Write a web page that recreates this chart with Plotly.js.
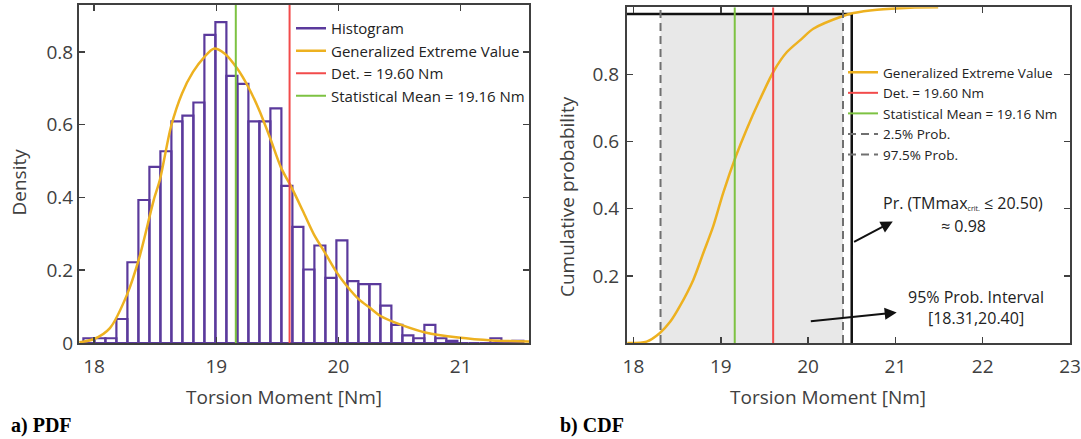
<!DOCTYPE html>
<html>
<head>
<meta charset="utf-8">
<script src="https://cdn.plot.ly/plotly-3.0.1.min.js"></script>
<style>
  html, body { margin: 0; padding: 0; background: #ffffff; }
  #chart { width: 1081px; height: 439px; }
</style>
</head>
<body>
<div id="chart"></div>
<script>
// ---------------- DATA ----------------
// Histogram (density), 40 equal bins starting at 17.913 Nm, width 0.09 Nm
const binStart = 17.913;
const binWidth = 0.09;
const histDensity = [
  0.013, 0.013, 0.013, 0.066, 0.222, 0.393, 0.484, 0.527, 0.609, 0.625,
  0.661, 0.847, 0.882, 0.734, 0.712, 0.609, 0.609, 0.645, 0.432, 0.319,
  0.202, 0.268, 0.179, 0.282, 0.170, 0.162, 0.162, 0.103, 0.050, 0.021,
  0.013, 0.050, 0.013, 0.006, 0.000, 0.000, 0.000, 0.013, 0.000, 0.006
];

// Fitted Generalized Extreme Value PDF
const gevPdfX = [17.88, 18.00, 18.13, 18.27, 18.37, 18.46, 18.49, 18.54, 18.63, 18.72,
                 18.81, 18.90, 18.98, 19.07, 19.17, 19.26, 19.35, 19.44, 19.53, 19.62,
                 19.71, 19.80, 19.89, 19.98, 20.07, 20.17, 20.26, 20.34, 20.52, 20.71,
                 20.98, 21.26, 21.56];
const gevPdfY = [0.002, 0.011, 0.041, 0.133, 0.234, 0.355, 0.395, 0.450, 0.595, 0.686,
                 0.745, 0.785, 0.809, 0.795, 0.755, 0.705, 0.641, 0.564, 0.482, 0.425,
                 0.362, 0.298, 0.248, 0.197, 0.156, 0.119, 0.096, 0.075, 0.049, 0.029,
                 0.015, 0.007, 0.004];

// Fitted Generalized Extreme Value CDF
const gevCdfX = [17.93, 18.15, 18.30, 18.42, 18.53, 18.685, 18.80, 18.914, 19.029, 19.174,
                 19.297, 19.449, 19.609, 19.755, 19.927, 20.06, 20.40, 20.52, 20.79, 21.17, 21.49];
const gevCdfY = [0.000, 0.004, 0.029, 0.063, 0.109, 0.188, 0.268, 0.348, 0.448, 0.557,
                 0.637, 0.726, 0.811, 0.866, 0.906, 0.936, 0.974, 0.983, 0.993, 0.999, 1.000];

const detValue = 19.60;       // deterministic torsion moment [Nm]
const meanValue = 19.16;      // statistical mean [Nm]
const p025 = 18.31;           // 2.5 % quantile
const p975 = 20.40;           // 97.5 % quantile
const critValue = 20.50;      // TMmax crit.
const critProb = 0.98;        // Pr(TMmax <= 20.50)

const pdfXTicks = [18, 19, 20, 21];
const pdfYTicks = [0, 0.2, 0.4, 0.6, 0.8];
const cdfXTicks = [18, 19, 20, 21, 22, 23];
const cdfYTicks = [0.2, 0.4, 0.6, 0.8];

// ---------------- STYLE ----------------
const FONT = "'Open Sans', 'Noto Sans', sans-serif";
const AX = '#404040';
const C_PURPLE = '#5b3a9c';
const C_ORANGE = '#EDB120';
const C_RED = '#f24b4b';
const C_GREEN = '#7dc242';
const C_DASH = '#707070';

const W = 1081, H = 439;
const px = v => v / W;
const py = v => 1 - v / H;

const pdfXRange = [17.877, 21.559];
const pdfYRange = [0, 0.929];
const cdfXRange = [17.926, 23.0];
const cdfYRange = [0, 1.0];

const traces = [
  // ----- PDF panel -----
  {
    type: 'bar', x0: binStart + binWidth / 2, dx: binWidth, y: histDensity,
    width: binWidth, xaxis: 'x', yaxis: 'y', showlegend: false, hoverinfo: 'skip',
    marker: { color: 'rgba(0,0,0,0)', line: { color: C_PURPLE, width: 2.2 } }
  },
  { type: 'scatter', mode: 'lines', x: [null], y: [null], name: 'Histogram',
    xaxis: 'x', yaxis: 'y', legend: 'legend', line: { color: C_PURPLE, width: 2.5 } },
  { type: 'scatter', mode: 'lines', x: gevPdfX, y: gevPdfY, name: 'Generalized Extreme Value',
    xaxis: 'x', yaxis: 'y', legend: 'legend', line: { color: C_ORANGE, width: 2.5, shape: 'spline', smoothing: 0.8 } },
  { type: 'scatter', mode: 'lines', x: [detValue, detValue], y: pdfYRange, name: 'Det. = 19.60 Nm',
    xaxis: 'x', yaxis: 'y', legend: 'legend', line: { color: C_RED, width: 2 } },
  { type: 'scatter', mode: 'lines', x: [meanValue, meanValue], y: pdfYRange, name: 'Statistical Mean = 19.16 Nm',
    xaxis: 'x', yaxis: 'y', legend: 'legend', line: { color: C_GREEN, width: 2 } },

  // ----- CDF panel -----
  { type: 'scatter', mode: 'lines', x: [cdfXRange[0], critValue, critValue], y: [critProb, critProb, 0],
    xaxis: 'x2', yaxis: 'y2', showlegend: false, line: { color: '#111111', width: 2.5 } },
  { type: 'scatter', mode: 'lines', x: gevCdfX, y: gevCdfY, name: 'Generalized Extreme Value',
    xaxis: 'x2', yaxis: 'y2', legend: 'legend2', line: { color: C_ORANGE, width: 2.5, shape: 'spline', smoothing: 0.8 } },
  { type: 'scatter', mode: 'lines', x: [detValue, detValue], y: cdfYRange, name: 'Det. = 19.60 Nm',
    xaxis: 'x2', yaxis: 'y2', legend: 'legend2', line: { color: C_RED, width: 2 } },
  { type: 'scatter', mode: 'lines', x: [meanValue, meanValue], y: cdfYRange, name: 'Statistical Mean = 19.16 Nm',
    xaxis: 'x2', yaxis: 'y2', legend: 'legend2', line: { color: C_GREEN, width: 2 } },
  { type: 'scatter', mode: 'lines', x: [p025, p025], y: cdfYRange, name: '2.5% Prob.',
    xaxis: 'x2', yaxis: 'y2', legend: 'legend2', line: { color: C_DASH, width: 2, dash: '8px,5px' } },
  { type: 'scatter', mode: 'lines', x: [p975, p975], y: cdfYRange, name: '97.5% Prob.',
    xaxis: 'x2', yaxis: 'y2', legend: 'legend2', line: { color: C_DASH, width: 2, dash: '8px,5px' } }
];

const axisCommon = {
  showline: true, linecolor: AX, linewidth: 2, mirror: 'ticks',
  ticks: 'inside', ticklen: 6, tickwidth: 1.5, tickcolor: AX,
  showgrid: false, zeroline: false,
  tickfont: { family: FONT, size: 19, color: AX }
};

const layout = {
  width: W, height: H,
  margin: { l: 0, r: 0, t: 0, b: 0 },
  paper_bgcolor: '#ffffff', plot_bgcolor: '#ffffff',
  showlegend: true,
  bargap: 0,
  xaxis: Object.assign({}, axisCommon, { domain: [px(79), px(529)], range: pdfXRange, tickvals: pdfXTicks, anchor: 'y', ticklabelstandoff: 5 }),
  yaxis: Object.assign({}, axisCommon, { domain: [py(343), py(5)], range: pdfYRange, tickvals: pdfYTicks, anchor: 'x' }),
  xaxis2: Object.assign({}, axisCommon, { domain: [px(627), px(1070)], range: cdfXRange, tickvals: cdfXTicks, anchor: 'y2', ticklabelstandoff: 5 }),
  yaxis2: Object.assign({}, axisCommon, { domain: [py(343), py(7.3)], range: cdfYRange, tickvals: cdfYTicks, anchor: 'x2', ticklabelstandoff: 2 }),
  legend: {
    x: px(291), y: py(12), xanchor: 'left', yanchor: 'top',
    bgcolor: 'rgba(0,0,0,0)', borderwidth: 0,
    font: { family: FONT, size: 15, color: '#222222' }, itemwidth: 30, tracegroupgap: 0
  },
  legend2: {
    x: px(843), y: py(57), xanchor: 'left', yanchor: 'top',
    bgcolor: 'rgba(0,0,0,0)', borderwidth: 0,
    font: { family: FONT, size: 13.5, color: '#222222' }, itemwidth: 30, tracegroupgap: 0
  },
  shapes: [
    { type: 'rect', xref: 'x2', yref: 'y2', x0: p025, x1: p975, y0: 0, y1: critProb,
      fillcolor: '#e8e8e8', line: { width: 0 }, layer: 'below' }
  ],
  annotations: [
    // axis titles
    { xref: 'paper', yref: 'paper', x: px(284), y: py(397), text: 'Torsion Moment [Nm]', showarrow: false,
      xanchor: 'center', yanchor: 'middle', font: { family: FONT, size: 19, color: AX } },
    { xref: 'paper', yref: 'paper', x: px(828), y: py(397), text: 'Torsion Moment [Nm]', showarrow: false,
      xanchor: 'center', yanchor: 'middle', font: { family: FONT, size: 19, color: AX } },
    { xref: 'paper', yref: 'paper', x: px(18), y: py(182.5), text: 'Density', showarrow: false, textangle: -90,
      xanchor: 'center', yanchor: 'middle', font: { family: FONT, size: 19, color: AX } },
    { xref: 'paper', yref: 'paper', x: px(567), y: py(197), text: 'Cumulative probability', showarrow: false, textangle: -90,
      xanchor: 'center', yanchor: 'middle', font: { family: FONT, size: 19, color: AX } },
    // panel labels
    { xref: 'paper', yref: 'paper', x: px(9), y: py(425), text: '<b>a) PDF</b>', showarrow: false,
      xanchor: 'left', yanchor: 'middle', font: { family: "'Liberation Serif', 'Times New Roman', serif", size: 20, color: '#000000' } },
    { xref: 'paper', yref: 'paper', x: px(558), y: py(425), text: '<b>b) CDF</b>', showarrow: false,
      xanchor: 'left', yanchor: 'middle', font: { family: "'Liberation Serif', 'Times New Roman', serif", size: 20, color: '#000000' } },
    // CDF text annotations
    { xref: 'paper', yref: 'paper', x: px(963), y: py(203), showarrow: false, xanchor: 'center', yanchor: 'middle',
      text: 'Pr. (TMmax<span style="font-size:10px"><sub>crit.</sub></span> ≤ 20.50)', font: { family: FONT, size: 16, color: '#222222' } },
    { xref: 'paper', yref: 'paper', x: px(963), y: py(226), showarrow: false, xanchor: 'center', yanchor: 'middle',
      text: '≈ 0.98', font: { family: FONT, size: 16, color: '#222222' } },
    { xref: 'x2', yref: 'y2', x: 21.918, y: 0.1046, showarrow: false, xanchor: 'center', yanchor: 'middle',
      text: '95% Prob. Interval<br>[18.31,20.40]', font: { family: FONT, size: 16, color: '#222222' } },
    // arrows
    { xref: 'x2', yref: 'y2', axref: 'x2', ayref: 'y2', x: 20.97, y: 0.362, ax: 20.51, ay: 0.299,
      text: '', showarrow: true, arrowhead: 2, arrowsize: 1.2, arrowwidth: 2, arrowcolor: '#111111', standoff: 0, startstandoff: 0 },
    { xref: 'x2', yref: 'y2', axref: 'x2', ayref: 'y2', x: 21.015, y: 0.091, ax: 20.014, ay: 0.064,
      text: '', showarrow: true, arrowhead: 2, arrowsize: 1.2, arrowwidth: 2, arrowcolor: '#111111', standoff: 0, startstandoff: 0 }
  ]
};

Plotly.newPlot('chart', traces, layout, { displayModeBar: false, staticPlot: true });
</script>
</body>
</html>
